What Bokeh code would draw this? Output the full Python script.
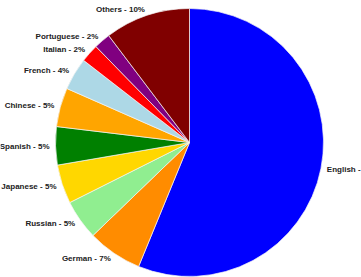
import math
from bokeh.plotting import figure
from bokeh.models import ColumnDataSource, Range1d
from bokeh.embed import file_html
from bokeh.resources import INLINE
from bokeh.core.properties import value

languages = ["English", "German", "Russian", "Japanese", "Spanish",
             "Chinese", "French", "Italian", "Portuguese", "Others"]
shares = [56.2, 6.6, 4.8, 4.7, 4.6, 4.7, 3.9, 2.2, 2.0, 10.3]
colors = ["#0000FF", "#FF8C00", "#90EE90", "#FFD700", "#008000",
          "#FFA500", "#ADD8E6", "#FF0000", "#800080", "#800000"]

W, H = 361, 277
cx, cy = 189, 135
R = 134
RL = 140

total = sum(shares)
starts, ends, lx, ly, labels, aligns = [], [], [], [], [], []
cum = 0.0
for lang, s in zip(languages, shares):
    a0 = math.radians(90 - 360 * cum / total)
    cum += s
    a1 = math.radians(90 - 360 * cum / total)
    starts.append(a0)
    ends.append(a1)
    mid = (a0 + a1) / 2
    x = cx + RL * math.cos(mid)
    y = cy + RL * math.sin(mid)
    lx.append(x)
    ly.append(y)
    labels.append(f"{lang} - {round(s)}%")
    aligns.append("left" if math.cos(mid) > 0 else "right")

src = ColumnDataSource(dict(start=starts, end=ends, color=colors,
                            lx=lx, ly=ly, label=labels, align=aligns))

p = figure(width=W, height=H, output_backend="svg", toolbar_location=None,
           x_range=Range1d(0, W), y_range=Range1d(0, H), min_border=0)
p.axis.visible = False
p.grid.visible = False
p.outline_line_color = None
p.background_fill_color = "white"
p.border_fill_color = "white"

p.wedge(x=cx, y=cy, radius=R, start_angle="start", end_angle="end",
        direction="clock", fill_color="color", line_color="#f4f4f4",
        line_width=0.7, source=src)

p.text(x="lx", y="ly", text="label", text_align="align",
       text_baseline="middle", text_font=value("Liberation Sans"),
       text_font_style="bold", text_font_size="8px", text_color="#222222",
       source=src)

open("out.html", "w").write(file_html(p, INLINE))
